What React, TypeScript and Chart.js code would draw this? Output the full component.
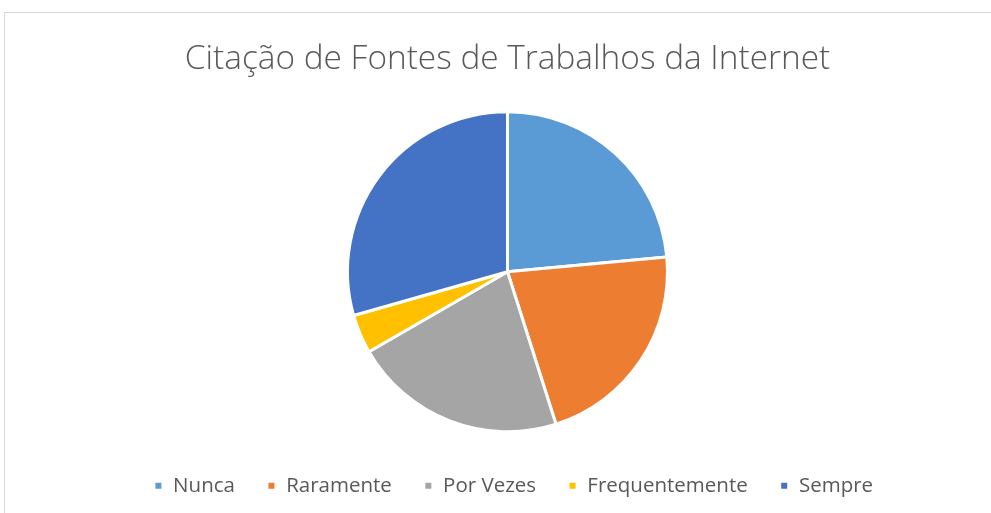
import React, { useEffect, useRef } from "react";
import { Chart, registerables } from "chart.js";

Chart.register(...registerables);

const categories = ["Nunca", "Raramente", "Por Vezes", "Frequentemente", "Sempre"];
const values = [12, 11, 11, 2, 15];
const colors = ["#5B9BD5", "#ED7D31", "#A5A5A5", "#FFC000", "#4472C4"];
const titleText = "Citação de Fontes de Trabalhos da Internet";

const frame = {
  id: "frame",
  beforeDraw(chart: any) {
    const ctx = chart.ctx;
    ctx.save();
    ctx.fillStyle = "#ffffff";
    ctx.fillRect(0, 0, chart.width, chart.height);
    ctx.strokeStyle = "#d9d9d9";
    ctx.lineWidth = 1;
    ctx.strokeRect(4.5, 12.5, 1200, 800);
    ctx.restore();
  },
  afterLayout(chart: any) {
    if (chart.legend) {
      chart.legend.left += 6;
      chart.legend.right += 6;
    }
  },
};

export default function App() {
  const ref = useRef<HTMLCanvasElement>(null);
  useEffect(() => {
    if (!ref.current) return;
    const chart = new Chart(ref.current, {
      type: "pie",
      data: {
        labels: categories,
        datasets: [
          {
            data: values,
            backgroundColor: colors,
            borderColor: "#ffffff",
            borderWidth: 3,
            hoverOffset: 0,
            offset: 0,
            radius: 160,
          },
        ],
      },
      options: {
        responsive: false,
        animation: false,
        layout: { padding: { left: 24, right: 0, top: 0, bottom: 7 } },
        plugins: {
          title: {
            display: true,
            text: titleText,
            color: "#595959",
            font: { family: "'Open Sans', sans-serif", size: 33.4, weight: "300", lineHeight: 1.2 },
            padding: { top: 39, bottom: 20.9 },
          },
          legend: {
            display: true,
            position: "bottom",
            labels: {
              color: "#595959",
              font: { family: "'Open Sans', sans-serif", size: 20.5 },
              boxWidth: 9,
              boxHeight: 9,
              padding: 32,
            },
          },
          tooltip: { enabled: false },
        },
      },
      plugins: [frame],
    });
    return () => chart.destroy();
  }, []);
  return (
    <div style={{ position: "absolute", left: 0, top: 0, width: 991, height: 513, overflow: "hidden" }}>
      <canvas ref={ref} width={991} height={513} style={{ display: "block" }} />
    </div>
  );
}
